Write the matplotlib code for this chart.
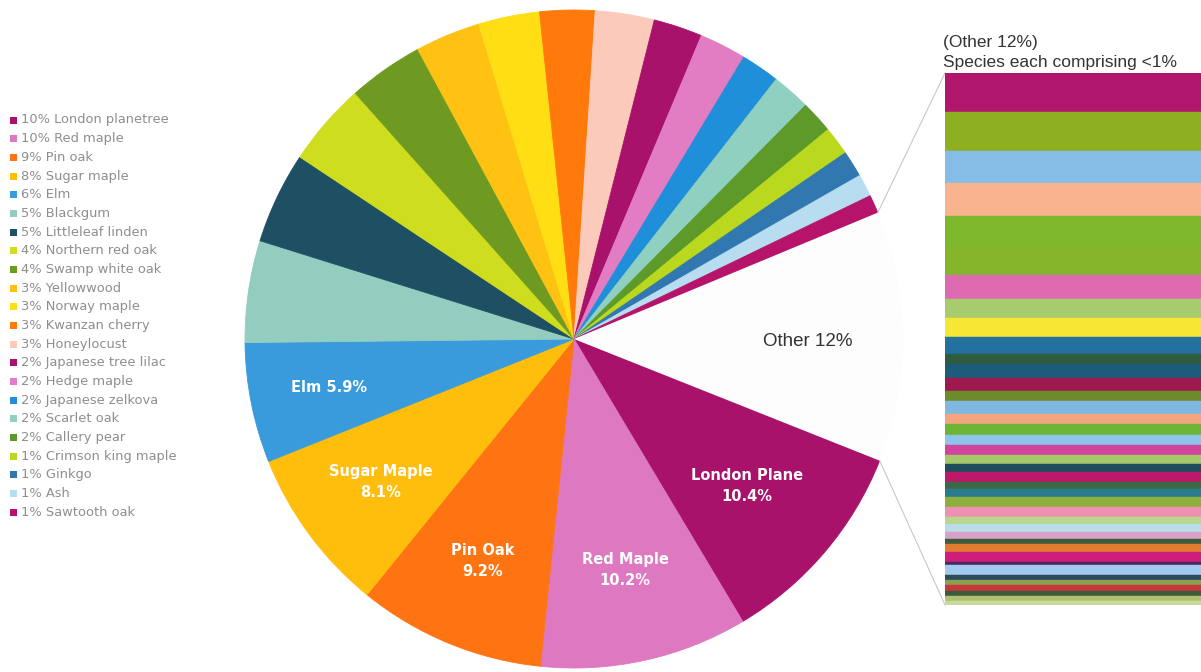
import math
import matplotlib
matplotlib.use("Agg")
import matplotlib.pyplot as plt
from matplotlib.patches import Rectangle

# Street tree species and their share of the inventory (%)
species = [
    "London planetree", "Red maple", "Pin oak", "Sugar maple", "Elm",
    "Blackgum", "Littleleaf linden", "Northern red oak", "Swamp white oak",
    "Yellowwood", "Norway maple", "Kwanzan cherry", "Honeylocust",
    "Japanese tree lilac", "Hedge maple", "Japanese zelkova", "Scarlet oak",
    "Callery pear", "Crimson king maple", "Ginkgo", "Ash", "Sawtooth oak",
]
shares = [
    10.4, 10.2, 9.2, 8.1, 5.9,
    5.0, 4.5, 4.1, 3.7,
    3.2, 3.0, 2.7, 2.9,
    2.4, 2.3, 1.9, 1.9,
    1.6, 1.4, 1.3, 1.1, 0.9,
]
colors = [
    "#A8126A", "#DE78C0", "#FF7412", "#FFBE0C", "#3A9BDC",
    "#93CDBF", "#1F4F63", "#CEDD1E", "#6E9A21",
    "#FFC212", "#FFDE14", "#FF7A0A", "#FBCABA",
    "#A8126A", "#E27CC3", "#1E8FD8", "#8FD0C0",
    "#5E9A2A", "#BAD81E", "#3278B0", "#B8DDF0", "#B5146A",
]

# Species each comprising less than 1% (together "Other")
other_share = 12.3
other_color = "#FDFDFD"
other_shares = [
    0.90, 0.88, 0.74, 0.76, 0.69, 0.65, 0.55, 0.44, 0.44, 0.39,
    0.23, 0.32, 0.30, 0.23, 0.28, 0.23, 0.25, 0.23, 0.23, 0.21,
    0.18, 0.23, 0.16, 0.18, 0.23, 0.23, 0.16, 0.18, 0.16, 0.12,
    0.18, 0.23, 0.07, 0.23, 0.12, 0.12, 0.12, 0.12, 0.12, 0.09,
]
other_colors = [
    "#B0176C", "#8FAF22", "#86BDE6", "#F8B48E", "#7DB82C", "#84B52A",
    "#DE6BB0", "#A8CB6E", "#F5E733", "#23719E", "#2F5B3F", "#1C5B7A",
    "#9E1A4E", "#6C8C2C", "#80B8E2", "#F3A57F", "#6DB532", "#8CC4EC",
    "#D2449C", "#A6C66C", "#1F4D5D", "#BE1968", "#3C6A48", "#2A7B8E",
    "#8DB03C", "#EE90B2", "#B8D68C", "#BADCE8", "#D6A2CA", "#3B5B3B",
    "#E07B30", "#CF1D7C", "#4A2A5A", "#A2CAEE", "#2C4A5A", "#8AA050",
    "#C8383A", "#3A5A3A", "#B0C070", "#C8D8A0",
]

# Wedge labels drawn inside the largest slices
label_names = ["London Plane", "Red Maple", "Pin Oak", "Sugar Maple", "Elm"]
label_seps = ["\n", "\n", "\n", "\n", " "]
label_radii = [0.69, 0.72, 0.73, 0.73, 0.76]

W, H = 1201, 672
fig = plt.figure(figsize=(W / 100, H / 100), dpi=100)
ax = fig.add_axes([0, 0, 1, 1])


def ypx(y):
    return H - y


cx, cy, r = 574, ypx(339), 329
wedges, _ = ax.pie(
    shares + [other_share],
    colors=colors + [other_color],
    startangle=-21.7,
    counterclock=False,
    radius=r,
    center=(cx, cy),
    wedgeprops=dict(linewidth=0.6),
)
for w in wedges[:-1]:
    w.set_edgecolor(w.get_facecolor())
wedges[-1].set_edgecolor("none")
ax.set_xlim(0, W)
ax.set_ylim(0, H)
ax.set_aspect("auto")
ax.axis("off")

# Labels inside the five biggest wedges
for i, name in enumerate(label_names):
    w = wedges[i]
    mid = math.radians((w.theta1 + w.theta2) / 2)
    x = cx + label_radii[i] * r * math.cos(mid)
    y = cy + label_radii[i] * r * math.sin(mid)
    ax.text(x, y, f"{name}{label_seps[i]}{shares[i]:.1f}%", color="white",
            fontsize=10.5, fontweight="bold", ha="center", va="center",
            linespacing=1.5, family="DejaVu Sans")

# "Other" wedge label
ow = wedges[-1]
omid = math.radians((ow.theta1 + ow.theta2) / 2)
ax.text(cx + 0.71 * r * math.cos(omid), cy + 0.71 * r * math.sin(omid) - 4,
        f"Other {other_share:.0f}%", color="#333333", fontsize=13.5,
        ha="center", va="center", family="Liberation Sans")

# Legend on the left
for i, (name, share, col) in enumerate(zip(species, shares, colors)):
    y = ypx(120 + i * 18.67)
    ax.add_patch(Rectangle((10, y - 3.5), 7, 7, facecolor=col, edgecolor="none"))
    ax.text(21, y, f"{math.floor(share + 0.5)}% {name}", color="#8e8e8e",
            fontsize=9.4, ha="left", va="center", family="DejaVu Sans")

# Stacked bar breaking down the "Other" wedge
bar_top, bar_bot, bar_left = 73, 605, 945
bax = fig.add_axes([bar_left / W, (H - bar_bot) / H, (W - bar_left) / W + 0.01,
                    (bar_bot - bar_top) / H])
bottom = 0.0
for s, c in zip(other_shares, other_colors):
    bax.bar(0, s, bottom=bottom, width=1, align="edge", color=c,
            edgecolor=c, linewidth=0.3)
    bottom += s
bax.set_xlim(0, 1)
bax.set_ylim(bottom, 0)
bax.axis("off")

# Connector lines from the "Other" wedge to the bar
t_top = math.radians(ow.theta2)
t_bot = math.radians(ow.theta1)
ax.plot([cx + r * math.cos(t_top), bar_left], [cy + r * math.sin(t_top), ypx(bar_top)],
        color="#c8c8c8", lw=0.8)
ax.plot([cx + r * math.cos(t_bot), bar_left], [cy + r * math.sin(t_bot), ypx(bar_bot)],
        color="#c8c8c8", lw=0.8)

# Bar title
ax.text(943, ypx(42), f"(Other {other_share:.0f}%)", color="#333333",
        fontsize=12.5, ha="left", va="center", family="Liberation Sans")
ax.text(943, ypx(62), "Species each comprising <1%", color="#333333",
        fontsize=12.5, ha="left", va="center", family="Liberation Sans")

fig.savefig("out.png", dpi=100, facecolor="white")
